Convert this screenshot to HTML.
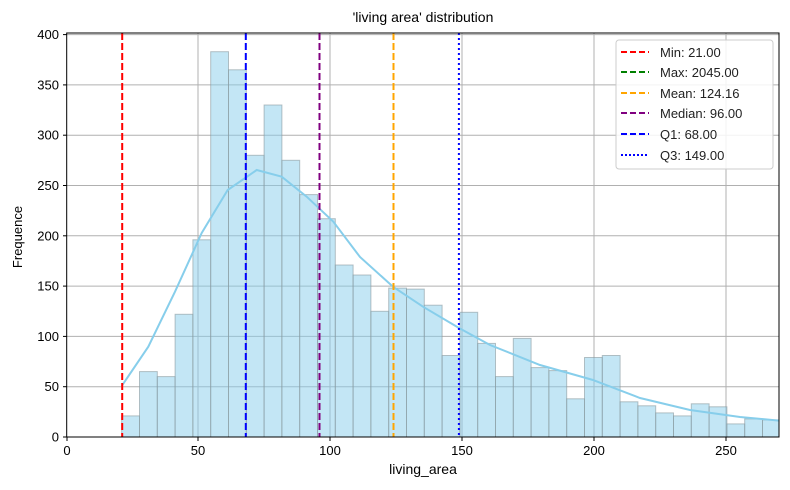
<!DOCTYPE html>
<html><head><style>body{margin:0;background:#fff}svg{display:block}</style></head><body>
<svg width="790" height="490" xmlns="http://www.w3.org/2000/svg" font-family="Liberation Sans, DejaVu Sans, sans-serif">
<rect width="790" height="490" fill="#fff"/>
<defs><clipPath id="c"><rect x="67" y="33" width="712" height="404"/></clipPath></defs>
<g stroke="#b0b0b0" stroke-width="1">
<line x1="198" y1="33" x2="198" y2="437"/><line x1="330" y1="33" x2="330" y2="437"/><line x1="462" y1="33" x2="462" y2="437"/><line x1="594" y1="33" x2="594" y2="437"/><line x1="726" y1="33" x2="726" y2="437"/>
<line x1="67" y1="386.7" x2="779" y2="386.7"/><line x1="67" y1="336.4" x2="779" y2="336.4"/><line x1="67" y1="286.1" x2="779" y2="286.1"/><line x1="67" y1="235.8" x2="779" y2="235.8"/><line x1="67" y1="185.5" x2="779" y2="185.5"/><line x1="67" y1="135.2" x2="779" y2="135.2"/><line x1="67" y1="84.9" x2="779" y2="84.9"/><line x1="67" y1="34.6" x2="779" y2="34.6"/>
</g>
<g clip-path="url(#c)" fill="#87ceeb" fill-opacity="0.5" stroke="#8a9a9e" stroke-opacity="0.6" stroke-width="1">
<rect x="121.7" y="415.9" width="17.8" height="21.1"/>
<rect x="139.5" y="371.6" width="17.8" height="65.4"/>
<rect x="157.3" y="376.6" width="17.8" height="60.4"/>
<rect x="175.1" y="314.3" width="17.8" height="122.7"/>
<rect x="192.9" y="239.8" width="17.8" height="197.2"/>
<rect x="210.7" y="51.7" width="17.8" height="385.3"/>
<rect x="228.5" y="69.8" width="17.8" height="367.2"/>
<rect x="246.3" y="155.3" width="17.8" height="281.7"/>
<rect x="264.1" y="105.0" width="17.8" height="332"/>
<rect x="281.9" y="160.3" width="17.8" height="276.7"/>
<rect x="299.7" y="194.6" width="17.8" height="242.4"/>
<rect x="317.5" y="218.7" width="17.8" height="218.3"/>
<rect x="335.3" y="265.0" width="17.8" height="172"/>
<rect x="353.1" y="275.0" width="17.8" height="162"/>
<rect x="370.9" y="311.3" width="17.8" height="125.7"/>
<rect x="388.7" y="288.1" width="17.8" height="148.9"/>
<rect x="406.5" y="289.1" width="17.8" height="147.9"/>
<rect x="424.3" y="305.2" width="17.8" height="131.8"/>
<rect x="442.1" y="355.5" width="17.8" height="81.5"/>
<rect x="459.9" y="312.3" width="17.8" height="124.7"/>
<rect x="477.7" y="343.4" width="17.8" height="93.6"/>
<rect x="495.5" y="376.6" width="17.8" height="60.4"/>
<rect x="513.3" y="338.4" width="17.8" height="98.6"/>
<rect x="531.1" y="367.6" width="17.8" height="69.4"/>
<rect x="548.9" y="370.6" width="17.8" height="66.4"/>
<rect x="566.7" y="398.8" width="17.8" height="38.2"/>
<rect x="584.5" y="357.5" width="17.8" height="79.5"/>
<rect x="602.3" y="355.5" width="17.8" height="81.5"/>
<rect x="620.1" y="401.8" width="17.8" height="35.2"/>
<rect x="637.9" y="405.8" width="17.8" height="31.2"/>
<rect x="655.7" y="412.9" width="17.8" height="24.1"/>
<rect x="673.5" y="415.9" width="17.8" height="21.1"/>
<rect x="691.3" y="403.8" width="17.8" height="33.2"/>
<rect x="709.1" y="406.8" width="17.8" height="30.2"/>
<rect x="726.9" y="423.9" width="17.8" height="13.1"/>
<rect x="744.7" y="418.9" width="17.8" height="18.1"/>
<rect x="762.5" y="419.9" width="17.8" height="17.1"/>
</g>
<polyline clip-path="url(#c)" fill="none" stroke="#87ceeb" stroke-width="2" points="121.7,386 148.3,346.7 175,291.7 201.7,233 227.7,190 256.7,170 281.7,176.7 306.7,196.7 333.3,221.7 360,257 393,286.7 423,306.7 459,328 490,345 540,365 593,380 640,398 690,410 740,417 780,420.7"/>
<g stroke-width="2" fill="none">
<line x1="122.2" y1="33" x2="122.2" y2="437" stroke="red" stroke-dasharray="7,3"/>
<line x1="245.8" y1="33" x2="245.8" y2="437" stroke="blue" stroke-dasharray="7,3"/>
<line x1="319.5" y1="33" x2="319.5" y2="437" stroke="purple" stroke-dasharray="7,3"/>
<line x1="393.5" y1="33" x2="393.5" y2="437" stroke="orange" stroke-dasharray="7,3"/>
<line x1="458.9" y1="33" x2="458.9" y2="437" stroke="blue" stroke-dasharray="2,3"/>
</g>
<rect x="66.7" y="33" width="712.3" height="404" fill="none" stroke="#000" stroke-width="1"/>
<g stroke="#000"><line x1="67" y1="437" x2="67" y2="441"/><line x1="198" y1="437" x2="198" y2="441"/><line x1="330" y1="437" x2="330" y2="441"/><line x1="462" y1="437" x2="462" y2="441"/><line x1="594" y1="437" x2="594" y2="441"/><line x1="726" y1="437" x2="726" y2="441"/>
<line x1="63" y1="437" x2="67" y2="437"/><line x1="63" y1="386.7" x2="67" y2="386.7"/><line x1="63" y1="336.4" x2="67" y2="336.4"/><line x1="63" y1="286.1" x2="67" y2="286.1"/><line x1="63" y1="235.8" x2="67" y2="235.8"/><line x1="63" y1="185.5" x2="67" y2="185.5"/><line x1="63" y1="135.2" x2="67" y2="135.2"/><line x1="63" y1="84.9" x2="67" y2="84.9"/><line x1="63" y1="34.6" x2="67" y2="34.6"/></g>
<g font-size="13" fill="#000" text-anchor="middle"><text x="67" y="455">0</text><text x="198" y="455">50</text><text x="330" y="455">100</text><text x="462" y="455">150</text><text x="594" y="455">200</text><text x="726" y="455">250</text></g>
<g font-size="13" fill="#000" text-anchor="end"><text x="59" y="441.5">0</text><text x="59" y="391">50</text><text x="59" y="341">100</text><text x="59" y="290.6">150</text><text x="59" y="240.3">200</text><text x="59" y="190">250</text><text x="59" y="139.7">300</text><text x="59" y="89.4">350</text><text x="59" y="39">400</text></g>
<text x="423" y="474" font-size="14" text-anchor="middle">living_area</text>
<text transform="translate(22,237) rotate(-90)" font-size="13" text-anchor="middle">Frequence</text>
<text x="423" y="22" font-size="14" text-anchor="middle">'living area' distribution</text>
<rect x="616" y="40" width="157" height="129" rx="3" fill="#fff" fill-opacity="0.85" stroke="#ccc"/>
<g stroke-width="2">
<line x1="621" y1="52" x2="649" y2="52" stroke="red" stroke-dasharray="6,3"/>
<line x1="621" y1="72" x2="649" y2="72" stroke="green" stroke-dasharray="6,3"/>
<line x1="621" y1="93" x2="649" y2="93" stroke="orange" stroke-dasharray="6,3"/>
<line x1="621" y1="113" x2="649" y2="113" stroke="purple" stroke-dasharray="6,3"/>
<line x1="621" y1="134" x2="649" y2="134" stroke="blue" stroke-dasharray="6,3"/>
<line x1="621" y1="155" x2="649" y2="155" stroke="blue" stroke-dasharray="2,2"/>
</g>
<g font-size="13" fill="#222"><text x="660" y="57">Min: 21.00</text><text x="660" y="77">Max: 2045.00</text><text x="660" y="98">Mean: 124.16</text><text x="660" y="118">Median: 96.00</text><text x="660" y="139">Q1: 68.00</text><text x="660" y="160">Q3: 149.00</text></g>
</svg>
</body></html>
